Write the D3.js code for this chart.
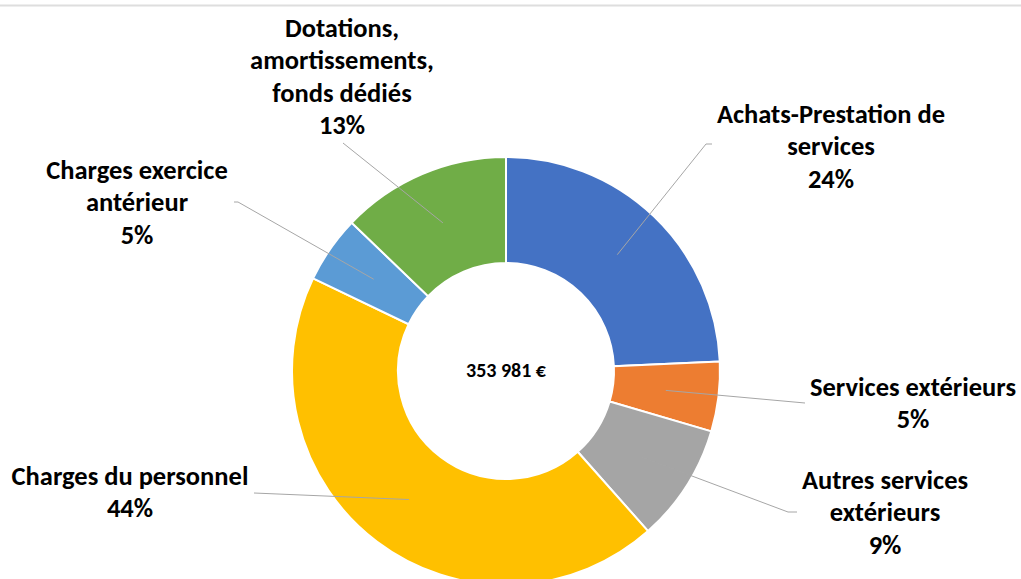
<!DOCTYPE html>
<html>
<head>
<meta charset="utf-8">
<script src="https://cdn.jsdelivr.net/npm/d3@7"></script>
<style>
  html, body { margin: 0; padding: 0; background: #fff; }
  svg { display: block; }
  text { font-family: Carlito, Calibri, Lato, "Open Sans", sans-serif; font-weight: 700; fill: #000; }
</style>
</head>
<body>
<svg id="chart" width="1021" height="579"></svg>
<script>
// ---- data ----
const categories = [
  "Achats-Prestation de services",
  "Services extérieurs",
  "Autres services extérieurs",
  "Charges du personnel",
  "Charges exercice antérieur",
  "Dotations, amortissements, fonds dédiés"
];
const labelLines = [
  ["Achats-Prestation de", "services"],
  ["Services extérieurs"],
  ["Autres services", "extérieurs"],
  ["Charges du personnel"],
  ["Charges exercice", "antérieur"],
  ["Dotations,", "amortissements,", "fonds dédiés"]
];
const values = [86000, 18600, 31500, 154600, 17900, 45381];
const totalLabel = "353 981 €";
const colors = ["#4472C4", "#ED7D31", "#A5A5A5", "#FFC000", "#5B9BD5", "#70AD47"];

// ---- layout (label placement) ----
const cx = 506, cy = 371, rOuter = 214, rInner = 108;
const labelPos = [
  {x: 831, y: 123, line: [[712, 144], [706, 144]]},
  {x: 913, y: 396, line: [[805, 403]]},
  {x: 885, y: 489, line: [[797, 512], [788, 512]]},
  {x: 130, y: 485, line: [[254, 493]]},
  {x: 137, y: 179, line: [[234, 202], [238, 202]]},
  {x: 342, y: 37,  line: [[343, 143]]}
];
const lineH = 32.3;

const svg = d3.select("#chart");

// top border line
svg.append("line").attr("x1", 0).attr("x2", 1021).attr("y1", 5.5).attr("y2", 5.5)
  .attr("stroke", "#dedede").attr("stroke-width", 2);

const g = svg.append("g").attr("transform", `translate(${cx},${cy})`);

const pie = d3.pie().sort(null).value(d => d);
const arcs = pie(values);
const arc = d3.arc().innerRadius(rInner).outerRadius(rOuter);
const midArc = d3.arc().innerRadius((rInner + rOuter) / 2).outerRadius((rInner + rOuter) / 2);

g.selectAll("path.slice").data(arcs).enter().append("path")
  .attr("class", "slice")
  .attr("d", arc)
  .attr("fill", (d, i) => colors[i])
  .attr("stroke", "#fff")
  .attr("stroke-width", 2);

// leader lines
const total = d3.sum(values);
arcs.forEach((d, i) => {
  const c = midArc.centroid(d);
  const pts = labelPos[i].line.map(p => [p[0], p[1]]).concat([[cx + c[0], cy + c[1]]]);
  svg.append("path")
    .attr("d", d3.line()(pts))
    .attr("fill", "none")
    .attr("stroke", "#a6a6a6")
    .attr("stroke-width", 1);
});

// labels
const fontSize = 26.5;
arcs.forEach((d, i) => {
  const pct = Math.round(values[i] / total * 100) + "%";
  const lines = labelLines[i].concat([pct]);
  const t = svg.append("text")
    .attr("text-anchor", "middle")
    .attr("font-size", fontSize);
  lines.forEach((ln, k) => {
    t.append("tspan").attr("x", labelPos[i].x).attr("y", labelPos[i].y + k * lineH).text(ln);
  });
});

// center total
svg.append("text")
  .attr("x", cx).attr("y", cy + 6)
  .attr("text-anchor", "middle")
  .attr("font-size", 20)
  .text(totalLabel);
</script>
</body>
</html>
